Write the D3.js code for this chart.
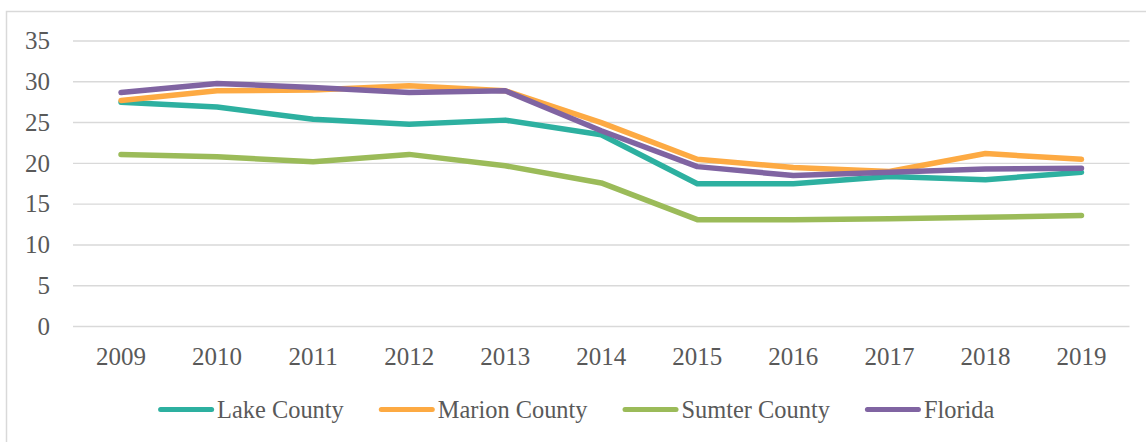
<!DOCTYPE html>
<html>
<meta charset="utf-8">
<title>County rates 2009-2019</title>
<style>
  html, body {
    margin: 0;
    padding: 0;
    background: #fff;
  }
  svg text {
    font-family: "Liberation Serif", "Times New Roman", serif;
    font-size: 25px;
    fill: #595959;
  }
  .legend text {
    font-size: 24.4px;
  }
  .grid line {
    stroke: #d9d9d9;
    stroke-width: 1.4;
  }
  .series {
    fill: none;
    stroke-width: 5.5;
    stroke-linejoin: round;
    stroke-linecap: round;
  }
</style>
<body>
<div id="chart"></div>
<script src="https://cdn.jsdelivr.net/npm/d3@7"></script>
<script>
// values
var years = ["2009", "2010", "2011", "2012", "2013", "2014", "2015", "2016", "2017", "2018", "2019"];
var yTicks = [0, 5, 10, 15, 20, 25, 30, 35];

var lakeCounty   = [27.5, 26.9, 25.4, 24.8, 25.3, 23.5, 17.5, 17.5, 18.4, 18.0, 18.9];
var marionCounty = [27.7, 28.9, 29.0, 29.5, 28.9, 25.0, 20.5, 19.5, 19.0, 21.2, 20.5];
var sumterCounty = [21.1, 20.8, 20.2, 21.1, 19.7, 17.6, 13.1, 13.1, 13.2, 13.4, 13.6];
var florida      = [28.7, 29.8, 29.3, 28.7, 28.9, 24.0, 19.6, 18.5, 18.9, 19.3, 19.4];

var seriesNames  = ["Lake County", "Marion County", "Sumter County", "Florida"];
var seriesColors = ["#2db0a0", "#fdaa43", "#9bbb59", "#8064a2"];
var seriesValues = [lakeCounty, marionCounty, sumterCounty, florida];

var W = 1146, H = 442;
var plot = {left: 73, right: 1129.5, top: 41, bottom: 326.5};

var svg = d3.select("#chart").append("svg")
    .attr("width", W)
    .attr("height", H);

// chart frame (only top and left edges fall inside the picture)
svg.append("path")
    .attr("d", "M6.5," + H + "V11.5H" + W)
    .attr("fill", "none")
    .attr("stroke", "#d9d9d9")
    .attr("stroke-width", 1.5);

var x = d3.scaleBand()
    .domain(years)
    .range([plot.left, plot.right]);

var y = d3.scaleLinear()
    .domain([0, 35])
    .range([plot.bottom, plot.top]);

// horizontal gridlines
svg.append("g")
    .attr("class", "grid")
    .selectAll("line")
    .data(yTicks)
    .enter().append("line")
    .attr("x1", plot.left)
    .attr("x2", plot.right)
    .attr("y1", function(d) { return y(d); })
    .attr("y2", function(d) { return y(d); });

// y labels
svg.append("g").selectAll("text")
    .data(yTicks)
    .enter().append("text")
    .attr("x", 50)
    .attr("y", function(d) { return y(d); })
    .attr("dy", "0.33em")
    .attr("text-anchor", "end")
    .text(function(d) { return d; });

// x labels
svg.append("g").selectAll("text")
    .data(years)
    .enter().append("text")
    .attr("x", function(d) { return x(d) + x.bandwidth() / 2; })
    .attr("y", 365)
    .attr("text-anchor", "middle")
    .text(function(d) { return d; });

var line = d3.line()
    .x(function(d, i) { return x(years[i]) + x.bandwidth() / 2; })
    .y(function(d) { return y(d); });

svg.append("g").selectAll("path")
    .data(seriesValues)
    .enter().append("path")
    .attr("class", "series")
    .attr("stroke", function(d, i) { return seriesColors[i]; })
    .attr("d", line);

// legend, centred on the chart frame
var markerW = 56, textGap = 3, itemGap = 35;
var legend = svg.append("g").attr("class", "legend");
var items = legend.selectAll("g")
    .data(seriesNames)
    .enter().append("g");

items.append("line")
    .attr("x1", 2.5)
    .attr("x2", markerW - 2.5)
    .attr("y1", 409.5)
    .attr("y2", 409.5)
    .attr("stroke", function(d, i) { return seriesColors[i]; })
    .attr("stroke-width", 5)
    .attr("stroke-linecap", "round");

items.append("text")
    .attr("x", markerW + textGap)
    .attr("y", 418)
    .text(function(d) { return d; });

var offset = 0;
items.each(function() {
    var g = d3.select(this);
    g.attr("transform", "translate(" + offset + ",0)");
    offset += markerW + textGap + g.select("text").node().getComputedTextLength() + itemGap;
});
offset -= itemGap;
legend.attr("transform", "translate(" + ((6.5 + W) / 2 - offset / 2) + ",0)");
</script>
</body>
</html>
